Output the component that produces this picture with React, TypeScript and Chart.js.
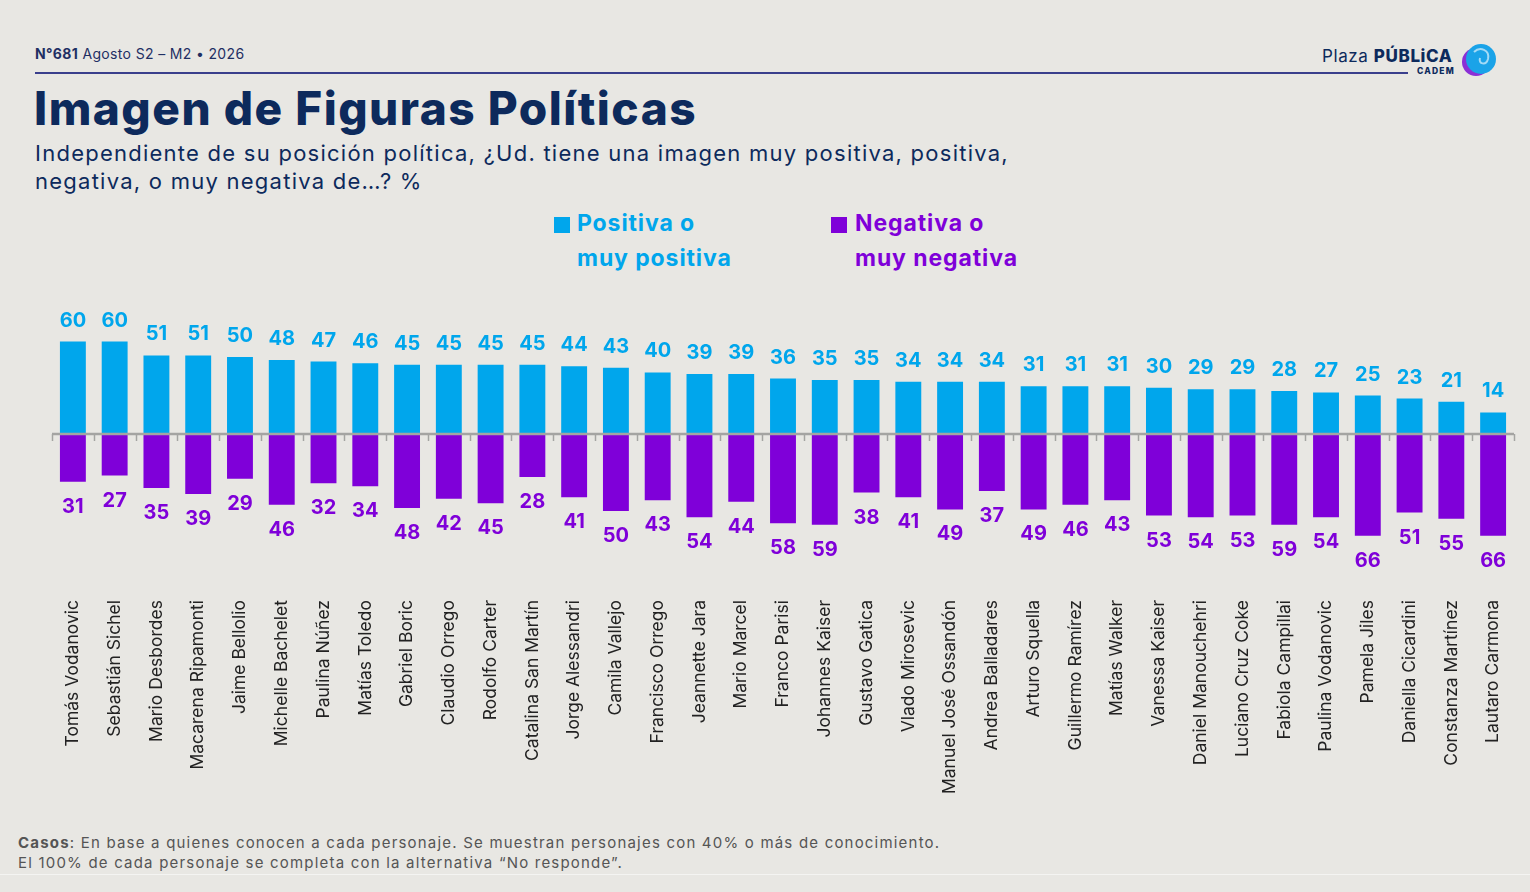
import React, { useEffect, useRef } from "react";
import { Chart, registerables } from "chart.js";

Chart.register(...registerables);

const names = [
  "Tomás Vodanovic", "Sebastián Sichel", "Mario Desbordes", "Macarena Ripamonti", "Jaime Bellolio",
  "Michelle Bachelet", "Paulina Núñez", "Matías Toledo", "Gabriel Boric", "Claudio Orrego",
  "Rodolfo Carter", "Catalina San Martín", "Jorge Alessandri", "Camila Vallejo", "Francisco Orrego",
  "Jeannette Jara", "Mario Marcel", "Franco Parisi", "Johannes Kaiser", "Gustavo Gatica",
  "Vlado Mirosevic", "Manuel José Ossandón", "Andrea Balladares", "Arturo Squella", "Guillermo Ramírez",
  "Matías Walker", "Vanessa Kaiser", "Daniel Manouchehri", "Luciano Cruz Coke", "Fabiola Campillai",
  "Paulina Vodanovic", "Pamela Jiles", "Daniella Cicardini", "Constanza Martínez", "Lautaro Carmona",
];

const positiva = [60, 60, 51, 51, 50, 48, 47, 46, 45, 45, 45, 45, 44, 43, 40, 39, 39, 36, 35, 35, 34, 34, 34, 31, 31, 31, 30, 29, 29, 28, 27, 25, 23, 21, 14];
const negativa = [31, 27, 35, 39, 29, 46, 32, 34, 48, 42, 45, 28, 41, 50, 43, 54, 44, 58, 59, 38, 41, 49, 37, 49, 46, 43, 53, 54, 53, 59, 54, 66, 51, 55, 66];

const seriesNames = ["Positiva o muy positiva", "Negativa o muy negativa"];

const BLUE = "#00a6ec";
const PURPLE = "#7f00d9";
const NAVY = "#0d2a5c";
const BG = "#e8e7e3";
const FONT = "Inter, 'Open Sans', sans-serif";

const overlayPlugin = {
  id: "overlay",
  afterDatasetsDraw(chart: any) {
    const { ctx, chartArea, scales } = chart;
    const x = scales.x;
    const y = scales.y;
    const y0 = y.getPixelForValue(0);
    ctx.save();
    ctx.strokeStyle = "#a4a4a2";
    ctx.lineWidth = 2.5;
    ctx.beginPath();
    ctx.moveTo(chartArea.left, y0);
    ctx.lineTo(chartArea.right, y0);
    ctx.stroke();
    const n = chart.data.labels.length;
    const w = (x.right - x.left) / n;
    ctx.lineWidth = 1.5;
    for (let i = 0; i <= n; i++) {
      const px = Math.round(x.left + i * w) + 0.5;
      ctx.beginPath();
      ctx.moveTo(px, y0);
      ctx.lineTo(px, y0 + 7);
      ctx.stroke();
    }
    // value labels
    ctx.font = `700 20px ${FONT}`;
    ctx.textAlign = "center";
    ctx.textBaseline = "middle";
    chart.data.datasets.forEach((ds: any, di: number) => {
      const meta = chart.getDatasetMeta(di);
      meta.data.forEach((bar: any, i: number) => {
        const v = ds.data[i];
        ctx.fillStyle = di === 0 ? BLUE : PURPLE;
        const ty = v >= 0 ? bar.y - 21 : bar.y + 25;
        ctx.fillText(String(Math.abs(v)), bar.x, ty);
      });
    });
    ctx.restore();
  },
};

function BarChart() {
  const ref = useRef<HTMLCanvasElement>(null);
  useEffect(() => {
    if (!ref.current) return;
    const chart = new Chart(ref.current, {
      type: "bar",
      data: {
        labels: names,
        datasets: [
          {
            label: seriesNames[0],
            data: positiva,
            backgroundColor: BLUE,
            barPercentage: 0.62,
            categoryPercentage: 1,
          },
          {
            label: seriesNames[1],
            data: negativa.map((v) => -v),
            backgroundColor: PURPLE,
            barPercentage: 0.62,
            categoryPercentage: 1,
          },
        ],
      },
      options: {
        responsive: false,
        animation: false,
        layout: { padding: { top: 15.4, left: 52, right: 16, bottom: 0 } },
        plugins: { legend: { display: false }, tooltip: { enabled: false } },
        scales: {
          x: {
            stacked: true,
            grid: { display: false, drawTicks: false },
            border: { display: false },
            ticks: {
              autoSkip: false,
              minRotation: 90,
              maxRotation: 90,
              padding: 12,
              color: "#222222",
              font: { family: FONT, size: 17.5 },
            },
            afterFit: (scale: any) => {
              scale.height = 222;
            },
          },
          y: {
            stacked: true,
            display: false,
            min: -100,
            max: 90,
          },
        },
      },
      plugins: [overlayPlugin],
    });
    return () => chart.destroy();
  }, []);
  return (
    <canvas
      ref={ref}
      width={1530}
      height={530}
      style={{ position: "absolute", left: 0, top: 280, width: 1530, height: 530 }}
    />
  );
}

export default function App() {
  return (
    <div
      style={{
        position: "fixed",
        left: 0,
        top: 0,
        width: 1530,
        height: 892,
        background: BG,
        overflow: "hidden",
        fontFamily: FONT,
      }}
    >
      <div style={{ position: "absolute", left: 35, top: 45, fontSize: 14, letterSpacing: 0.35, color: "#1f2f63", whiteSpace: "nowrap" }}>
        <span style={{ fontWeight: 700 }}>N°681</span> Agosto S2 – M2 • 2026
      </div>
      <div style={{ position: "absolute", left: 35, top: 72, width: 1373, height: 1.5, background: "#3a3f8c" }} />
      <div style={{ position: "absolute", left: 1322, top: 46, fontSize: 17, letterSpacing: 0.6, color: NAVY, whiteSpace: "nowrap" }}>
        <span>Plaza </span>
        <span style={{ fontWeight: 800 }}>PÚBLiCA</span>
      </div>
      <div style={{ position: "absolute", left: 1417, top: 66, fontSize: 8.5, fontWeight: 800, letterSpacing: 1.2, color: NAVY }}>
        CADEM
      </div>
      <svg style={{ position: "absolute", left: 1460, top: 42 }} width={38} height={36} viewBox="0 0 38 36">
        <circle cx={16} cy={20} r={14} fill="#8b2fd6" />
        <circle cx={21} cy={17} r={15} fill="#1aa3e8" />
        <path d="M14 10 C20 4, 30 8, 28 17 C26 24, 18 22, 20 16" stroke="#ffffff" strokeWidth={2} fill="none" opacity={0.6} />
      </svg>
      <div
        style={{
          position: "absolute",
          left: 34,
          top: 80,
          fontSize: 46,
          fontWeight: 800,
          color: NAVY,
          whiteSpace: "nowrap",
          letterSpacing: 1.5,
        }}
      >
        Imagen de Figuras Políticas
      </div>
      <div style={{ position: "absolute", left: 35, top: 139, fontSize: 22, letterSpacing: 1.25, lineHeight: "28px", color: NAVY, width: 1100, whiteSpace: "nowrap" }}>
        Independiente de su posición política, ¿Ud. tiene una imagen muy positiva, positiva,
        <br />
        negativa, o muy negativa de…? %
      </div>
      {/* Legend */}
      <div style={{ position: "absolute", left: 554, top: 217, width: 16, height: 16, background: BLUE }} />
      <div style={{ position: "absolute", left: 577, top: 206, fontSize: 23, letterSpacing: 0.9, fontWeight: 700, color: BLUE, lineHeight: "35px", whiteSpace: "nowrap" }}>
        Positiva o
        <br />
        muy positiva
      </div>
      <div style={{ position: "absolute", left: 831, top: 217, width: 16, height: 16, background: PURPLE }} />
      <div style={{ position: "absolute", left: 855, top: 206, fontSize: 23, letterSpacing: 0.9, fontWeight: 700, color: PURPLE, lineHeight: "35px", whiteSpace: "nowrap" }}>
        Negativa o
        <br />
        muy negativa
      </div>
      <BarChart />
      <div style={{ position: "absolute", left: 18, top: 833, fontSize: 15, letterSpacing: 1.2, lineHeight: "20px", color: "#555555", whiteSpace: "nowrap" }}>
        <span style={{ fontWeight: 700 }}>Casos</span>: En base a quienes conocen a cada personaje. Se muestran personajes con 40% o más de conocimiento.
        <br />
        El 100% de cada personaje se completa con la alternativa “No responde”.
      </div>
      <div style={{ position: "absolute", left: 0, top: 874, width: 1530, height: 1, background: "#f4f4f2" }} />
    </div>
  );
}
